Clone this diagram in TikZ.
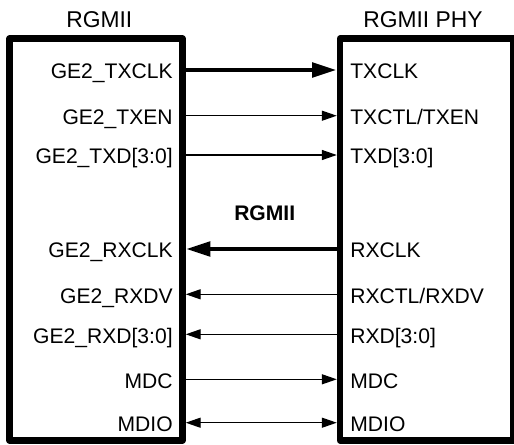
\documentclass[tikz,border=0pt]{standalone}
\usepackage{fontspec}
\setmainfont{Liberation Sans}
\usetikzlibrary{arrows.meta,calc}
\usetikzlibrary{positioning}

\begin{document}
\begin{tikzpicture}[x=0.02cm,y=-0.02cm,line join=round,
  chip/.style={draw,line width=3.7pt,minimum height=8.04cm,inner sep=0pt},
  pinname/.style={font=\fontsize{12}{14}\selectfont,inner sep=0pt,text height=10.2pt,text depth=0pt},
  chipname/.style={font=\fontsize{13}{15}\selectfont,inner sep=0pt,anchor=base},
  sig/.style={line width=0.7pt,-{Triangle[length=8.5pt,width=5.7pt]}},
  clk/.style={line width=2.7pt,-{Triangle[length=14pt,width=8pt]}},
  bidir/.style={line width=0.7pt,{Triangle[length=8.5pt,width=5.7pt]}-{Triangle[length=8.5pt,width=5.7pt]}}]
\useasboundingbox (0,0) rectangle (514,444);
% the two chips
\node[chip,minimum width=3.46cm] (mac) at (96,239.5) {};
\node[chip,minimum width=3.47cm] (phy) at (426.75,239.5) {};
\node[chipname] (tmac) at (99.3,27) {RGMII};
\node[chipname] (tphy) at (423,27) {RGMII PHY};
% pin names, MAC side and PHY side
\foreach \n/\y/\t in {txclk/70/GE2\_TXCLK,txen/115.7/GE2\_TXEN,txd/155/GE2\_TXD[3:0],rxclk/249/GE2\_RXCLK,rxdv/294.3/GE2\_RXDV,rxd/334.3/GE2\_RXD[3:0],mdc/379.3/MDC,mdio/422.7/MDIO}
  \node[pinname,anchor=east] (l\n) at (173,\y) {\t};
\foreach \n/\y/\t in {txclk/70/TXCLK,txen/115.7/{TXCTL/TXEN},txd/155/TXD[3:0],rxclk/249/RXCLK,rxdv/294.3/{RXCTL/RXDV},rxd/334.3/RXD[3:0],mdc/379.3/MDC,mdio/422.7/MDIO}
  \node[pinname,anchor=west] (r\n) at (350,\y) {\t};
\node[font=\fontsize{12}{14}\selectfont\bfseries,inner sep=0pt,anchor=base] (bus) at (264.7,220.7) {RGMII};
% transmit side
\draw[clk] (ltxclk -| mac.east) -- (rtxclk -| phy.west);
\foreach \n in {txen,txd,mdc}
  \draw[sig] (l\n -| mac.east) -- (r\n -| phy.west);
% receive side
\draw[clk] (rrxclk -| phy.west) -- (lrxclk -| mac.east);
\foreach \n in {rxdv,rxd}
  \draw[sig] (r\n -| phy.west) -- (l\n -| mac.east);
\draw[bidir] (lmdio -| mac.east) -- (rmdio -| phy.west);
\end{tikzpicture}
\end{document}
